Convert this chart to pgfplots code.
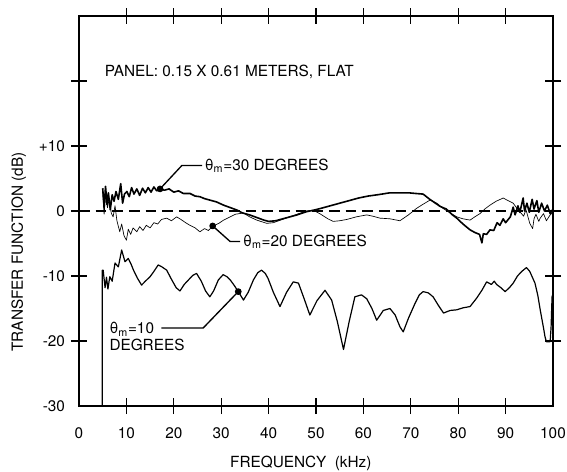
\documentclass[border=0pt]{standalone}
\usepackage{fontspec}
\setmainfont{TeX Gyre Heros}
\usepackage{pgfplots}
\pgfplotsset{compat=1.18}

\newcommand{\lblfont}{\fontsize{11.5}{13.5}\selectfont}
\newcommand{\thm}{θ\textsubscript{m}}

% theta_m = 30 degrees (heavy trace)
\pgfplotstableread{
f db
5.0 3.5
5.3 0.5
5.6 3.8
5.9 1.0
6.2 2.8
6.6 0.2
7.0 2.5
7.4 1.5
7.8 3.0
8.3 1.8
8.8 4.2
9.2 1.2
9.6 2.6
10.1 3.0
10.6 2.2
11.1 3.6
11.6 2.6
12.2 3.4
12.8 2.4
13.4 3.5
14.0 2.8
14.6 3.6
15.2 2.9
15.8 3.7
16.4 3.1
17.1 3.4
18.0 3.2
19.0 3.4
20.0 2.9
21.0 3.1
22.0 2.7
23.4 2.7
24.5 2.3
25.5 2.2
26.5 1.9
27.5 1.7
29.0 1.4
30.5 0.9
32.0 0.5
33.3 0.15
34.5 -0.3
36.0 -0.6
37.5 -1.0
39.0 -1.4
40.0 -1.6
41.5 -1.5
43.0 -1.2
44.5 -0.9
46.0 -0.6
48.0 -0.1
49.4 0.1
51.0 0.4
53.0 0.8
55.0 1.2
57.0 1.6
59.0 2.0
61.0 2.3
63.0 2.5
65.6 2.8
67.5 2.8
69.5 2.8
71.0 2.7
72.6 2.6
74.0 1.8
75.2 1.2
76.2 0.7
77.5 0.3
78.8 -0.6
79.7 -1.1
81.0 -2.0
82.5 -2.9
83.5 -3.3
84.5 -3.6
85.0 -4.9
85.3 -3.5
86.0 -3.6
86.7 -2.9
87.5 -3.0
88.2 -1.8
88.8 -2.2
89.5 -1.2
90.0 -1.8
91.0 -0.9
91.6 0.6
92.0 -0.6
92.6 0.8
93.0 -0.2
93.7 2.0
94.0 0.0
94.5 1.2
95.0 -0.2
95.6 1.8
96.0 0.3
96.6 1.6
97.0 -0.2
97.6 1.2
98.2 0.0
98.8 0.9
99.4 -0.4
100 0.3
}\thirty

% theta_m = 20 degrees (light trace)
\pgfplotstableread{
f db
5.0 3.0
5.3 -0.5
5.6 2.8
6.0 0.5
6.4 2.0
6.8 -0.3
7.2 -0.9
7.6 0.8
8.0 -1.5
8.6 -3.2
9.0 -2.0
9.5 -3.8
10.0 -4.5
10.4 -2.8
10.9 -3.6
11.4 -2.6
12.2 -3.2
12.8 -2.4
13.5 -3.0
14.2 -2.2
15.0 -2.6
15.8 -1.8
16.6 -2.0
17.4 -1.3
18.5 -1.1
19.5 -1.5
20.6 -0.9
21.5 -1.3
22.5 -1.8
23.4 -2.2
24.5 -2.6
25.5 -3.2
26.5 -2.7
27.3 -3.0
28.3 -2.3
29.5 -1.9
30.5 -1.4
31.9 -0.9
33.0 -0.5
34.7 -0.3
36.0 -0.9
37.5 -1.4
39.6 -1.9
41.0 -1.8
42.5 -1.4
44.0 -1.0
46.0 -0.5
48.0 0.0
49.4 0.15
51.0 -0.5
52.5 -1.2
53.6 -1.6
55.0 -1.5
56.5 -1.3
58.5 -0.9
60.7 -0.6
62.0 -0.8
63.5 -1.1
65.6 -1.2
67.7 -1.5
69.5 -0.6
71.2 0.4
72.5 1.0
74.1 1.7
75.5 1.2
76.8 0.4
78.3 -0.3
79.7 -0.9
81.0 -1.2
82.5 -1.4
83.5 -0.9
84.6 -0.4
85.6 0.3
86.7 0.9
88.0 1.5
89.5 2.0
90.5 1.6
91.6 1.2
92.3 0.5
93.0 -0.1
93.8 -0.8
94.3 0.2
95.1 -1.9
95.7 -2.7
96.0 -1.2
96.4 -0.5
97.0 -1.6
97.3 -1.1
98.0 -0.4
98.6 -1.5
99.4 -0.6
100 -0.2
}\twenty

% theta_m = 10 degrees
\pgfplotstableread{
f db
4.9 -30
4.9 -9.1
5.1 -9.1
5.5 -11.8
5.8 -10.2
6.1 -12.0
6.5 -10.1
7.0 -10.8
7.6 -8.0
8.3 -8.6
9.0 -6.0
9.7 -7.8
10.4 -7.3
11.0 -8.2
11.5 -9.1
12.3 -10.3
13.2 -11.4
14.0 -10.8
15.0 -10.1
15.8 -9.3
16.7 -8.3
17.5 -8.6
18.5 -9.1
19.5 -10.5
20.5 -11.8
21.3 -12.3
22.2 -11.3
23.1 -10.6
24.0 -9.9
24.8 -9.6
25.8 -10.8
26.7 -12.3
27.6 -13.2
28.4 -12.3
29.4 -10.6
30.4 -9.8
31.2 -10.1
31.9 -10.6
32.8 -11.5
33.6 -12.4
34.7 -13.7
35.7 -12.5
36.8 -10.6
37.7 -9.5
38.5 -9.1
39.3 -9.6
39.9 -10.4
41.0 -12.5
42.4 -14.7
43.8 -12.5
45.2 -10.9
46.3 -11.1
47.5 -13.5
48.7 -16.0
50.2 -13.8
51.9 -12.2
53.3 -13.7
54.5 -17.0
55.8 -21.3
57.0 -17.0
58.2 -13.2
59.6 -12.9
60.7 -13.5
61.8 -15.0
62.8 -16.8
64.2 -15.3
65.6 -15.0
66.7 -16.0
67.7 -17.8
68.4 -18.6
69.5 -16.5
70.9 -14.2
71.8 -12.9
72.6 -12.4
73.7 -12.6
74.7 -13.2
75.8 -14.5
76.9 -15.7
78.3 -15.3
79.7 -15.2
81.0 -14.9
82.5 -14.7
83.9 -13.4
85.0 -12.2
86.0 -10.9
87.0 -11.3
87.6 -10.8
88.1 -11.3
89.0 -11.8
89.9 -12.4
90.8 -11.8
91.6 -11.1
92.5 -10.0
93.4 -9.3
94.4 -8.7
95.1 -9.3
96.2 -11.1
96.8 -13.0
97.3 -15.2
98.0 -18.0
98.3 -19.3
98.6 -20.1
99.4 -20.1
99.6 -17.8
99.8 -13.2
100 -12.8
}\ten

\begin{document}
\begin{tikzpicture}
\useasboundingbox (0,0) rectangle (425.25pt,353.25pt);
\begin{axis}[
    at={(59.25pt,48.75pt)}, anchor=south west,
    width=355.5pt, height=292.5pt, scale only axis,
    xmin=0, xmax=100, ymin=-30, ymax=30,
    axis line style={line width=1pt},
    tick align=center, major tick length=12pt,
    major tick style={line width=1pt, black},
    xtick={10,20,...,90},
    xticklabels={10,20,30,40,50,60,70,80,90},
    extra x ticks={0,100}, extra x tick labels={0,100},
    extra x tick style={tick style={draw=none}},
    ytick={-20,-10,0,10,20},
    yticklabels={-20,-10,0,+10,{}},
    extra y ticks={-30}, extra y tick labels={-30},
    extra y tick style={tick style={draw=none}},
    tick label style={font=\lblfont},
    xticklabel style={yshift=-7pt},
    yticklabel style={xshift=-1pt},
    xlabel={FREQUENCY\ \ (kHz)},
    ylabel={TRANSFER FUNCTION (dB)},
    label style={font=\lblfont},
    xlabel style={at={(axis description cs:0.468,-0.147)}, anchor=center},
    ylabel style={at={(axis description cs:-0.127,0.395)}, anchor=center},
    every axis plot/.append style={line join=round},
]
\addplot[black, line width=1.2pt, dash pattern=on 8pt off 4.5pt] coordinates {(0,0) (100,0)};
\addplot[black, line width=0.5pt] table[x=f, y=db] {\twenty};
\addplot[black, line width=1.2pt] table[x=f, y=db] {\thirty};
\addplot[black, line width=0.9pt] table[x=f, y=db] {\ten};

% leaders with dots on the curves
\addplot[black, line width=1pt, mark=*, mark size=2pt, mark indices={1}] coordinates {(17.1,3.4) (21.7,7.0) (26.0,7.0)};
\addplot[black, line width=1pt, mark=*, mark size=2pt, mark indices={1}] coordinates {(28.2,-2.3) (31.9,-4.7) (34.0,-4.7)};
\addplot[black, line width=1pt, mark=*, mark size=2pt, mark indices={1}] coordinates {(33.6,-12.4) (26.2,-18.0) (17.4,-18.0)};

\node[anchor=west, font=\lblfont, inner sep=1pt] at (axis cs:26.2,7.0) {\thm=30 DEGREES};
\node[anchor=west, font=\lblfont, inner sep=1pt] at (axis cs:34.3,-4.7) {\thm=20 DEGREES};
\node[anchor=west, font=\lblfont, inner sep=1pt] at (axis cs:6.1,-18.2) {\thm=10};
\node[anchor=west, font=\lblfont, inner sep=1pt] at (axis cs:6.1,-20.6) {DEGREES};
\node[anchor=west, font=\lblfont, inner sep=1pt] at (axis cs:5.1,21.4) {PANEL: 0.15 X 0.61 METERS, FLAT};
\end{axis}
\end{tikzpicture}
\end{document}
